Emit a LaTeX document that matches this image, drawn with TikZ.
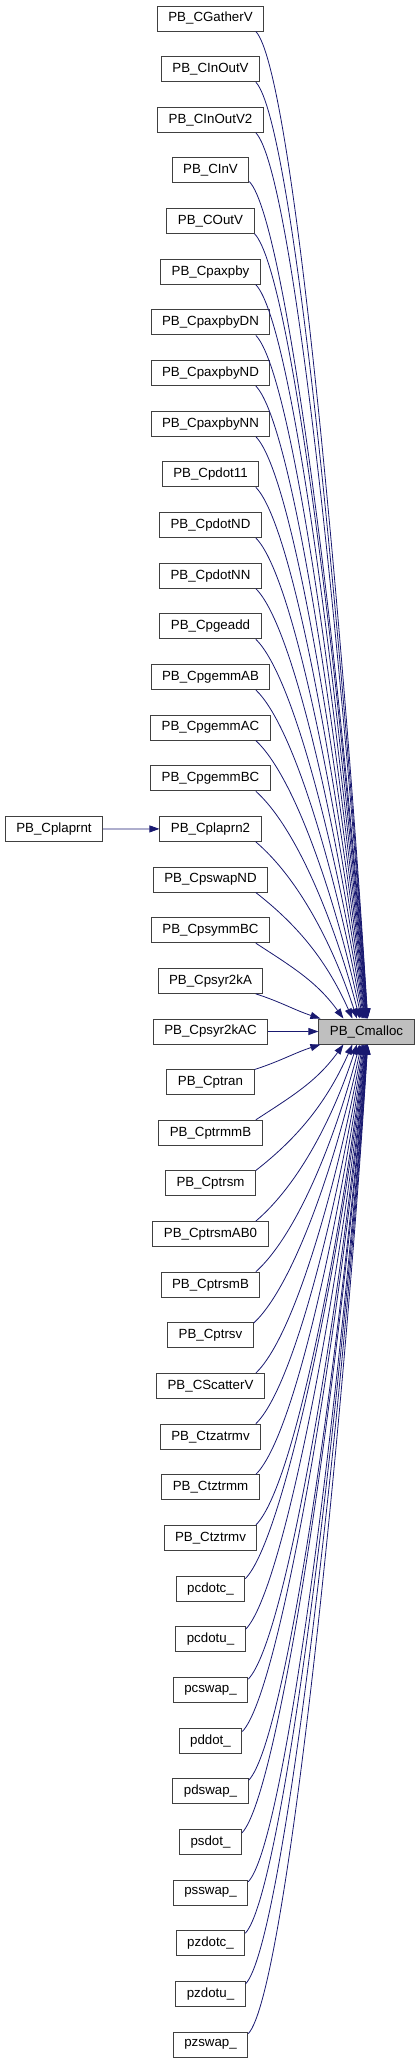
\documentclass[tikz,border=0pt]{standalone}
\usepackage{fontspec}
\setmainfont{Liberation Sans}
\usetikzlibrary{arrows.meta,calc}
\definecolor{edgeblue}{HTML}{191970}
\definecolor{boxgrey}{HTML}{BFBFBF}
\def\callers{CGatherV/PB\_CGatherV, CInOutV/PB\_CInOutV, CInOutVtwo/PB\_CInOutV2,
  CInV/PB\_CInV, COutV/PB\_COutV, Cpaxpby/PB\_Cpaxpby, CpaxpbyDN/PB\_CpaxpbyDN,
  CpaxpbyND/PB\_CpaxpbyND, CpaxpbyNN/PB\_CpaxpbyNN, Cpdot/PB\_Cpdot11,
  CpdotND/PB\_CpdotND, CpdotNN/PB\_CpdotNN, Cpgeadd/PB\_Cpgeadd,
  CpgemmAB/PB\_CpgemmAB, CpgemmAC/PB\_CpgemmAC, CpgemmBC/PB\_CpgemmBC,
  Cplaprn/PB\_Cplaprn2, CpswapND/PB\_CpswapND, CpsymmBC/PB\_CpsymmBC,
  CpsyrkA/PB\_Cpsyr2kA, CpsyrkAC/PB\_Cpsyr2kAC, Cptran/PB\_Cptran,
  CptrmmB/PB\_CptrmmB, Cptrsm/PB\_Cptrsm, CptrsmAB/PB\_CptrsmAB0,
  CptrsmB/PB\_CptrsmB, Cptrsv/PB\_Cptrsv, CScatterV/PB\_CScatterV,
  Ctzatrmv/PB\_Ctzatrmv, Ctztrmm/PB\_Ctztrmm, Ctztrmv/PB\_Ctztrmv,
  pcdotc/pcdotc\_, pcdotu/pcdotu\_, pcswap/pcswap\_, pddot/pddot\_,
  pdswap/pdswap\_, psdot/psdot\_, psswap/psswap\_, pzdotc/pzdotc\_,
  pzdotu/pzdotu\_, pzswap/pzswap\_}

\begin{document}
\begin{tikzpicture}[x=1pt,y=1pt,
  fn/.style={draw=black!75,line width=1pt,fill=white,minimum height=25pt,
    inner xsep=11pt,inner ysep=0pt,font=\fontsize{13.3}{16}\selectfont},
  call/.style={draw=edgeblue,line width=0.8pt,-{Triangle[length=10pt,width=7pt]}}]
  \useasboundingbox (0,0) rectangle (420,-2064);
  \foreach \n/\lbl [count=\i from 0] in \callers {
    \node[fn] (\n) at (210.5,{-18.5-50.65*\i}) {\lbl};
  }
  \node[fn,fill=boxgrey] (Cmalloc) at (366.5,-1031.5) {PB\_Cmalloc};
  \node[fn] (Cplaprnt) at (54,-828.9) {PB\_Cplaprnt};
  \draw[call] (Cplaprnt) -- (Cplaprn);
  \draw[call] (CpsyrkAC) -- (Cmalloc);
  \foreach \n/\lbl [count=\i from 0] in \callers {
    \pgfmathtruncatemacro\dist{\i-20}
    \ifnum\dist<0
      \pgfmathsetmacro\absd{-\dist}
      \pgfmathsetmacro\endx{max(2,52-54/\absd)}
      \pgfmathsetmacro\outa{-48+30/\absd}
      \pgfmathsetmacro\ina{90+72/\absd}
      \draw[call] (\n.-16) to[out=\outa,in=\ina,out max distance=55pt]
        ($(Cmalloc.north west)+(\endx,0)$);
    \fi
    \ifnum\dist>0
      \pgfmathsetmacro\absd{\dist}
      \pgfmathsetmacro\endx{max(2,52-54/\absd)}
      \pgfmathsetmacro\outa{48-30/\absd}
      \pgfmathsetmacro\ina{-90-72/\absd}
      \draw[call] (\n.16) to[out=\outa,in=\ina,out max distance=55pt]
        ($(Cmalloc.south west)+(\endx,0)$);
    \fi
  }
\end{tikzpicture}
\end{document}
